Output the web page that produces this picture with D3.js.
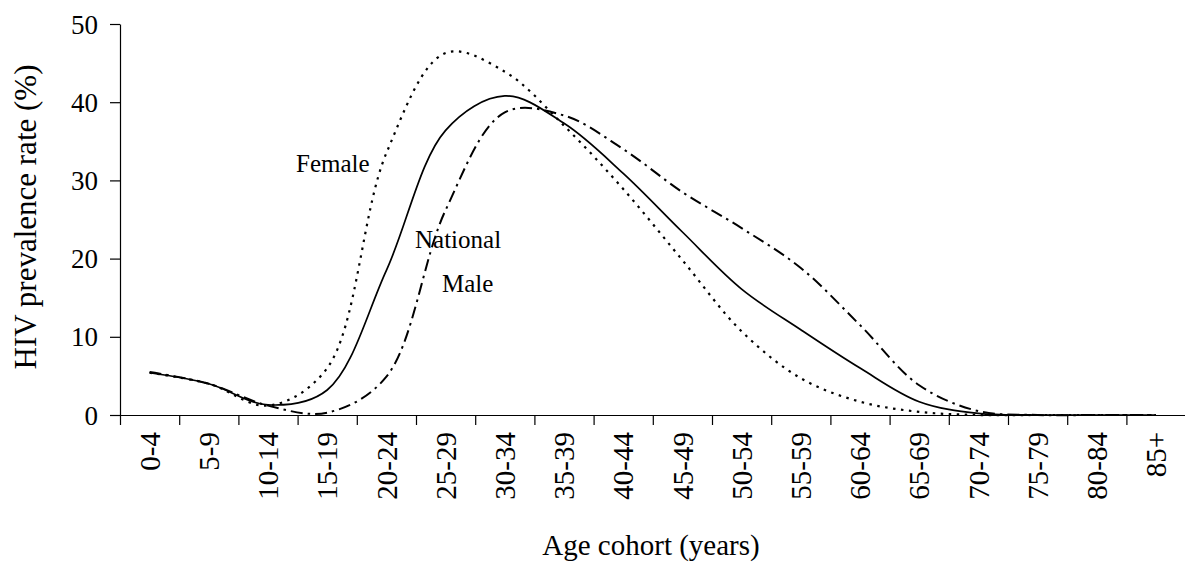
<!DOCTYPE html>
<html>
<head>
<meta charset="utf-8">
<script src="https://cdn.jsdelivr.net/npm/d3@7"></script>
<style>
  body { margin: 0; background: #fff; }
  svg text { font-family: "Liberation Serif", "Times New Roman", serif; fill: #000; }
</style>
</head>
<body>
<svg width="1185" height="564"></svg>
<script>
var ageGroups = ["0-4", "5-9", "10-14", "15-19", "20-24", "25-29", "30-34", "35-39", "40-44",
  "45-49", "50-54", "55-59", "60-64", "65-69", "70-74", "75-79", "80-84", "85+"];

var female   = [5.4, 4.0, 1.2, 6.0, 33.5, 46.3, 43.9, 37.0, 28.9, 19.8, 10.7, 4.7, 1.7, 0.4, 0, 0, 0, 0];
var national = [5.4, 4.0, 1.3, 3.2, 18.5, 36.4, 40.8, 37.3, 30.9, 23.4, 16.1, 10.9, 6.0, 1.7, 0.2, 0, 0, 0];
var male     = [5.5, 4.0, 1.2, 0.3, 4.9, 26.2, 38.7, 38.3, 34.0, 28.5, 23.9, 18.8, 11.5, 3.8, 0.5, 0, 0, 0];

var yTicks = [0, 10, 20, 30, 40, 50];

var svg = d3.select("svg"),
    plot = {left: 120, top: 24, bottom: 415, right: 120 + 59.2 * ageGroups.length};

var x = d3.scaleBand().domain(ageGroups).range([plot.left, plot.right]).padding(0),
    xEdge = d3.scaleLinear().domain([0, ageGroups.length]).range([plot.left, plot.right]),
    y = d3.scaleLinear().domain([0, 50]).range([plot.bottom, plot.top]);

var series = [
  {name: "Female", values: female, dash: "2.5,5.5", width: 2.2},
  {name: "National", values: national, dash: null, width: 1.7},
  {name: "Male", values: male, dash: "12,5,2.5,5", width: 2}
];

var line = d3.line()
    .curve(d3.curveCatmullRom.alpha(0.5))
    .x(function(d, i) { return x(ageGroups[i]) + x.bandwidth() / 2; })
    .y(function(d) { return y(d); });

// y axis
var gy = svg.append("g")
    .attr("transform", "translate(" + plot.left + ",0)")
    .call(d3.axisLeft(y).tickValues(yTicks).tickSize(10).tickSizeOuter(0).tickPadding(12));
gy.selectAll("text").style("font-size", "27px").attr("dy", "0.34em");

// x axis: tick marks at group boundaries
var gx = svg.append("g")
    .attr("transform", "translate(0," + plot.bottom + ")")
    .call(d3.axisBottom(xEdge).tickValues(d3.range(0, ageGroups.length + 1)).tickFormat("").tickSize(10).tickSizeOuter(0));

// x axis labels
var gl = svg.append("g")
    .attr("transform", "translate(0," + plot.bottom + ")")
    .call(d3.axisBottom(x).tickSize(0).tickPadding(0));
gl.select(".domain").remove();
gl.selectAll("text")
    .style("font-size", "29px")
    .attr("text-anchor", "end")
    .attr("transform", "rotate(-90)")
    .attr("x", -17)
    .attr("y", 0)
    .attr("dy", "0.35em");

svg.selectAll(".domain, .tick line").attr("stroke", "#000").attr("stroke-width", 1.2);

// lines
svg.selectAll(".series")
  .data(series)
  .enter().append("path")
    .attr("class", "series")
    .attr("fill", "none")
    .attr("stroke", "#000")
    .attr("stroke-width", function(d) { return d.width; })
    .attr("stroke-dasharray", function(d) { return d.dash; })
    .attr("d", function(d) { return line(d.values); });

// labels
var labels = [
  {text: "Female", x: 296, y: 172},
  {text: "National", x: 415, y: 248},
  {text: "Male", x: 442, y: 292}
];
svg.selectAll(".lbl")
  .data(labels)
  .enter().append("text")
    .attr("class", "lbl")
    .attr("x", function(d) { return d.x; })
    .attr("y", function(d) { return d.y; })
    .style("font-size", "25px")
    .text(function(d) { return d.text; });

// axis titles
svg.append("text")
    .attr("x", 651)
    .attr("y", 555)
    .attr("text-anchor", "middle")
    .style("font-size", "29px")
    .text("Age cohort (years)");

svg.append("text")
    .attr("transform", "translate(36,217) rotate(-90)")
    .attr("text-anchor", "middle")
    .style("font-size", "31px")
    .text("HIV prevalence rate (%)");
</script>
</body>
</html>
